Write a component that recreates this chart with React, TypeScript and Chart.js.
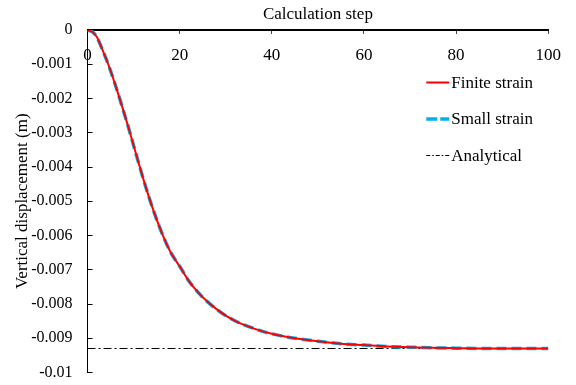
import React, { useEffect, useRef } from "react";
import { Chart, registerables } from "chart.js";

Chart.register(...registerables);

// ---- data ----
const steps = [0, 1, 2, 3, 4, 5, 6, 7, 8, 9, 10, 11, 12, 13, 14, 15, 16, 17, 18, 19, 20, 22, 24, 26, 28, 30, 32, 34, 36, 38, 40, 42, 45, 50, 55, 60, 65, 70, 75, 80, 85, 90, 95, 100];
const finiteStrain = [0, -0.00005, -0.0002, -0.0005, -0.00083, -0.00119, -0.00159, -0.00201, -0.00245, -0.0029, -0.00337, -0.00384, -0.0043, -0.00474, -0.00515, -0.00553, -0.00588, -0.0062, -0.00648, -0.0067, -0.0069, -0.00733, -0.00766, -0.00793, -0.00815, -0.00834, -0.00849, -0.00861, -0.00871, -0.0088, -0.00887, -0.00893, -0.009, -0.00909, -0.00916, -0.0092, -0.00924, -0.00926, -0.00928, -0.00929, -0.0093, -0.0093, -0.0093, -0.0093];
const smallStrain = [0, -0.00005, -0.0002, -0.0005, -0.00083, -0.00119, -0.00159, -0.00201, -0.00245, -0.0029, -0.00337, -0.00384, -0.0043, -0.00474, -0.00515, -0.00553, -0.00588, -0.0062, -0.00648, -0.0067, -0.0069, -0.00733, -0.00766, -0.00793, -0.00815, -0.00834, -0.00849, -0.00861, -0.00871, -0.0088, -0.00887, -0.00893, -0.009, -0.00909, -0.00916, -0.0092, -0.00924, -0.00926, -0.00928, -0.00929, -0.0093, -0.0093, -0.0093, -0.0093];
const analyticalSteps = [0, 100];
const analyticalValues = [-0.0093, -0.0093];
const seriesNames = ["Finite strain", "Small strain", "Analytical"];
const xTitle = "Calculation step";
const yTitle = "Vertical displacement (m)";
const xRange = [0, 100];
const xStep = 20;
const yRange = [-0.01, 0];
const yStep = 0.001;

const FONT = "'Liberation Serif', 'Times New Roman', serif";

const toPoints = (xs: number[], ys: number[]) => xs.map((x, i) => ({ x, y: ys[i] }));

const legendPlugin = {
  id: "insideLegend",
  afterDraw(chart: any) {
    const { ctx, chartArea } = chart;
    const x0 = chartArea.right - 122;
    const lineLen = 23;
    const yStart = chartArea.top + 52.5;
    const gap = 36.5;
    ctx.save();
    ctx.font = `17px ${FONT}`;
    ctx.textBaseline = "middle";
    ctx.textAlign = "left";
    chart.data.datasets.forEach((ds: any, i: number) => {
      const y = yStart + i * gap;
      ctx.beginPath();
      ctx.strokeStyle = ds.borderColor;
      ctx.lineWidth = ds.borderWidth;
      ctx.setLineDash(ds.legendDash || ds.borderDash || []);
      ctx.moveTo(x0, y);
      ctx.lineTo(x0 + lineLen, y);
      ctx.stroke();
      ctx.setLineDash([]);
      ctx.fillStyle = "#000";
      ctx.fillText(ds.label, x0 + lineLen + 2, y + 1);
    });
    ctx.restore();
  },
};

export default function App() {
  const ref = useRef<HTMLCanvasElement | null>(null);
  useEffect(() => {
    document.body.style.margin = "0";
    const canvas = ref.current;
    if (!canvas) return;
    const chart = new Chart(canvas, {
      type: "line",
      data: {
        datasets: [
          {
            label: seriesNames[0],
            data: toPoints(steps, finiteStrain),
            borderColor: "#FF0000",
            borderWidth: 2,
            pointRadius: 0,
            cubicInterpolationMode: "monotone",
            fill: false,
          },
          {
            label: seriesNames[1],
            data: toPoints(steps, smallStrain),
            borderColor: "#00B0F0",
            borderWidth: 3.5,
            borderDash: [10, 5],
            legendDash: [11, 3],
            pointRadius: 0,
            cubicInterpolationMode: "monotone",
            fill: false,
          },
          {
            label: seriesNames[2],
            data: toPoints(analyticalSteps, analyticalValues),
            borderColor: "#000000",
            borderWidth: 1,
            borderDash: [8, 3, 2, 3],
            legendDash: [4, 2, 1.5, 2],
            pointRadius: 0,
            fill: false,
          },
        ] as any,
      },
      options: {
        responsive: false,
        animation: false,
        layout: { padding: { left: 12.8, right: 23.3, top: 0, bottom: 12.5 } },
        plugins: {
          legend: { display: false },
          tooltip: { enabled: false },
        },
        scales: {
          x: {
            type: "linear",
            position: "top",
            min: xRange[0],
            max: xRange[1],
            border: { display: true, color: "#000", width: 2 },
            grid: {
              drawOnChartArea: false,
              drawTicks: true,
              tickLength: -4,
              tickColor: "#444",
              lineWidth: 1,
            },
            ticks: {
              stepSize: xStep,
              mirror: true,
              padding: 15,
              color: "#000",
              font: { family: FONT, size: 17 },
              maxRotation: 0,
            },
            title: {
              display: true,
              text: xTitle,
              color: "#000",
              font: { family: FONT, size: 17 },
              padding: { top: 4.8, bottom: -21.2 },
            },
          },
          y: {
            type: "linear",
            position: "left",
            min: yRange[0],
            max: yRange[1],
            border: { display: true, color: "#000", width: 1 },
            grid: {
              drawOnChartArea: false,
              drawTicks: true,
              tickLength: -5,
              tickColor: "#000",
              lineWidth: 1,
            },
            ticks: {
              stepSize: yStep,
              padding: 20,
              color: "#000",
              font: { family: FONT, size: 16 },
              callback: (v: any) => String(Number(Number(v).toFixed(3))),
            },
            title: {
              display: true,
              text: yTitle,
              color: "#000",
              font: { family: FONT, size: 17 },
              padding: { top: 0, bottom: -22 },
            },
            afterFit: (scale: any) => {
              scale.paddingTop = 10;
              scale.paddingBottom = 10;
            },
          },
        },
      },
      plugins: [legendPlugin],
    });
    return () => chart.destroy();
  }, []);
  return (
    <div style={{ width: 576, height: 385 }}>
      <canvas ref={ref} width={576} height={385} style={{ display: "block" }} />
    </div>
  );
}
